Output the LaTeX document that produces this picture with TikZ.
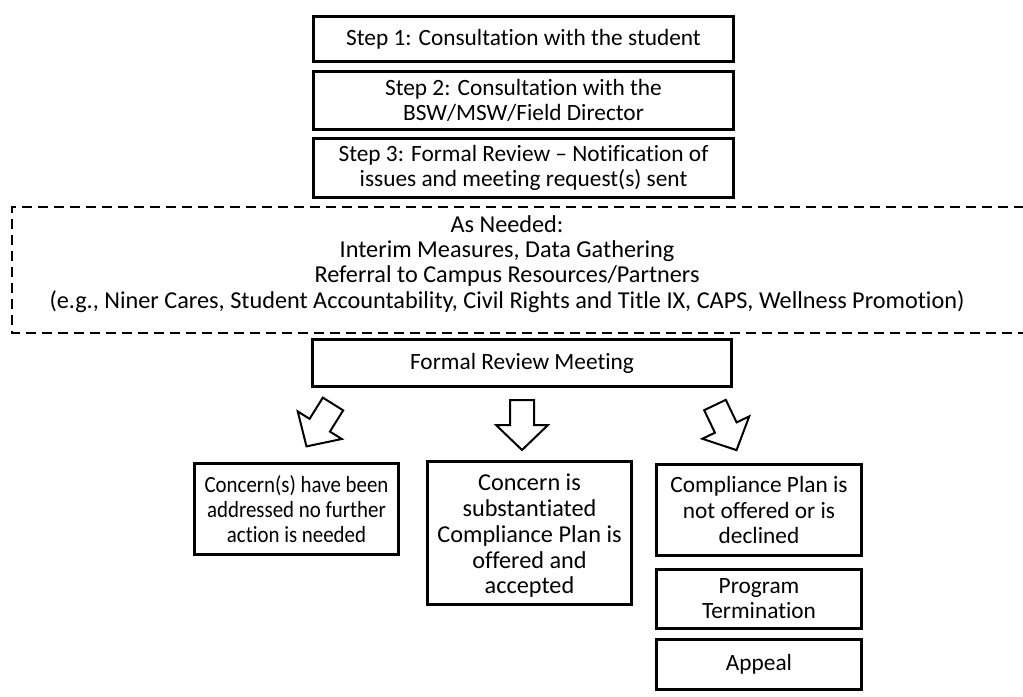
\documentclass[tikz,border=0pt]{standalone}
\usepackage{fontspec}
\setmainfont{Carlito}[Ligatures=CommonOff]
\newfontfamily\narrowfont{Carlito}[Ligatures=CommonOff, FakeStretch=0.9]
\begin{document}
\begin{tikzpicture}[x=0.75pt,y=-0.75pt,
  box/.style={draw, line width=2.25pt, align=center, inner sep=0pt,
    font=\fontsize{17.5}{19}\selectfont},
  plain/.style={align=center, inner sep=0pt, font=\fontsize{17.5}{19}\selectfont},
  dashframe/.style={draw, line width=1.5pt, dash pattern=on 7.5pt off 4.5pt},
  barrow/.style={draw, line width=1.5pt, fill=white, line join=miter},
  blockarr/.pic={\draw[barrow] (-12,0) -- (12,0) -- (12,25) -- (26,25) -- (0,50)
      -- (-26,25) -- (-12,25) -- cycle;}
]
\clip (0,0) rectangle (1023,696);

\node[box, minimum width=315pt, minimum height=33.75pt] (s1) at (523.5,39)
  {Step 1: Consultation with the student};
\node[box, minimum width=315pt, minimum height=43.5pt] (s2) at (523.5,100.5)
  {Step 2: Consultation with the\\BSW/MSW/Field Director};
\node[box, minimum width=315pt, minimum height=44.25pt] (s3) at (523.5,168)
  {Step 3: Formal Review -- Notification of\\issues and meeting request(s) sent};

\draw[dashframe] (1040,207) -| (12,333) -- (1040,333);
\node[plain, font=\fontsize{18.2}{18.9}\selectfont] (need) at (507,264)
  {As Needed:\\Interim Measures, Data Gathering\\Referral to Campus Resources/Partners\\(e.g., Niner Cares, Student Accountability, Civil Rights and Title IX, CAPS, Wellness Promotion)};

\node[box, minimum width=314.25pt, minimum height=35.25pt] (frm) at (522,363)
  {Formal Review Meeting};

\pic[rotate=-32] (arrL) at (333,404) {blockarr};
\pic (arrM) at (522,400) {blockarr};
\pic[rotate=25.5] (arrR) at (715,405) {blockarr};

\node[box, minimum width=153pt, minimum height=68.25pt, font=\narrowfont\fontsize{17.4}{18.9}\selectfont] (left) at (296.5,509)
  {Concern(s) have been\\addressed no further\\action is needed};
\node[box, minimum width=153pt, minimum height=107.25pt] (mid) at (529.5,533) {};
\node[plain, font=\fontsize{18.2}{19.3}\selectfont] (midtext) at (529.5,536)
  {Concern is\\substantiated\\Compliance Plan is\\offered and\\accepted};
\node[box, minimum width=153.75pt, minimum height=68.25pt] (r1) at (759,510)
  {Compliance Plan is\\not offered or is\\declined};
\node[box, minimum width=153.75pt, minimum height=44.25pt] (r2) at (759,598.5)
  {Program\\Termination};
\node[box, minimum width=153.75pt, minimum height=37.5pt] (r3) at (759,664.5)
  {Appeal};
\end{tikzpicture}
\end{document}
